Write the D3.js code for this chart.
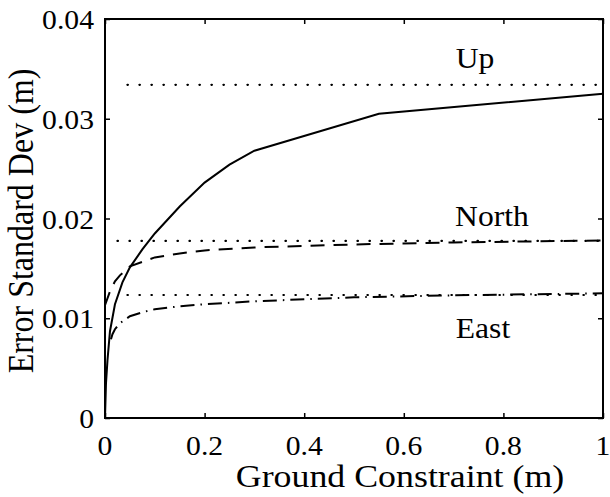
<!DOCTYPE html>
<html>
<head>
<meta charset="utf-8">
<script src="https://cdn.jsdelivr.net/npm/d3@7"></script>
<style>
  body { margin: 0; background: #fff; }
</style>
</head>
<body>
<div id="chart"></div>
<script>
var width = 610
var height = 497
var margin = ({top: 19, right: 7, bottom: 79, left: 105})
var serif = "'Liberation Serif', 'Times New Roman', Times, serif"

// ground constraint (m) vs error std dev (m)
var upX = [0, 0.002, 0.005, 0.01, 0.02, 0.035, 0.05, 0.075, 0.1, 0.15, 0.2, 0.25, 0.3, 0.55, 1.0]
var upY = [0, 0.0035, 0.0058, 0.0087, 0.0114, 0.0136, 0.0151, 0.0169, 0.0185, 0.0212, 0.0236, 0.0254, 0.0268, 0.0305, 0.0325]

var northX = [0, 0.01, 0.02, 0.03, 0.05, 0.1, 0.15, 0.2, 0.3, 0.5, 0.7, 1.0]
var northY = [0.0113, 0.0127, 0.0137, 0.0143, 0.0152, 0.0161, 0.0165, 0.0168, 0.0171, 0.0174, 0.0176, 0.0178]

var eastX = [0.012, 0.015, 0.02, 0.03, 0.05, 0.075, 0.1, 0.15, 0.2, 0.3, 0.5, 0.7, 1.0]
var eastY = [0.0079, 0.0084, 0.0089, 0.0095, 0.0102, 0.0106, 0.0109, 0.0112, 0.0114, 0.0117, 0.0121, 0.0123, 0.0125]

// dotted asymptote levels
var refNames = ["Up", "North", "East"]
var refLevels = [0.0334, 0.01775, 0.01233]
var refStart = [0.045, 0.025, 0.045]
var labelX = [0.743, 0.777, 0.759]
var labelY = [0.0351, 0.0192, 0.0080]

var xTicks = [0, 0.2, 0.4, 0.6, 0.8, 1]
var yTicks = [0, 0.01, 0.02, 0.03, 0.04]

var svg = d3.select("#chart").append("svg")
  .attr("width", width)
  .attr("height", height)
  .attr("font-family", serif)

var x = d3.scaleLinear().domain([0, 1]).range([margin.left, width - margin.right])
var y = d3.scaleLinear().domain([0, 0.04]).range([height - margin.bottom, margin.top])

var line = d3.line().x(d => x(d[0])).y(d => y(d[1]))

// reference dotted lines
svg.append("g")
  .attr("stroke", "#000")
  .attr("stroke-width", 2.2)
  .attr("stroke-linecap", "round")
  .attr("stroke-dasharray", "0.5 11.5")
  .selectAll("line")
  .data(refLevels)
  .join("line")
    .attr("x1", (d, i) => x(refStart[i]))
    .attr("x2", x(1) - 4)
    .attr("y1", d => y(d))
    .attr("y2", d => y(d))

var series = [
  {xs: upX, ys: upY, dash: null},
  {xs: northX, ys: northY, dash: "14 9"},
  {xs: eastX, ys: eastY, dash: "14 6 1.5 6"}
]

svg.append("g")
  .attr("fill", "none")
  .attr("stroke", "#000")
  .attr("stroke-width", 2)
  .selectAll("path")
  .data(series)
  .join("path")
    .attr("stroke-dasharray", d => d.dash)
    .attr("d", d => line(d.xs.map((v, i) => [v, d.ys[i]])))

// frame
svg.append("rect")
  .attr("x", x(0))
  .attr("y", y(0.04))
  .attr("width", x(1) - x(0))
  .attr("height", y(0) - y(0.04))
  .attr("fill", "none")
  .attr("stroke", "#000")
  .attr("stroke-width", 2)

// inward ticks on all sides
svg.append("g")
  .attr("transform", `translate(0,${y(0)})`)
  .call(d3.axisTop(x).tickValues(xTicks).tickSize(5).tickFormat(""))
svg.append("g")
  .attr("transform", `translate(0,${y(0.04)})`)
  .call(d3.axisBottom(x).tickValues(xTicks).tickSize(5).tickFormat(""))
svg.append("g")
  .attr("transform", `translate(${x(0)},0)`)
  .call(d3.axisRight(y).tickValues(yTicks).tickSize(5).tickFormat(""))
svg.append("g")
  .attr("transform", `translate(${x(1)},0)`)
  .call(d3.axisLeft(y).tickValues(yTicks).tickSize(5).tickFormat(""))
svg.selectAll(".domain").remove()
svg.selectAll(".tick line").attr("stroke-width", 1.5)

// the scan is stretched sideways, so text gets a horizontal scale
function place(px, py, sx) {
  return `translate(${px},${py}) scale(${sx},1)`
}

// tick labels
svg.append("g")
  .attr("font-size", 26.5)
  .attr("font-family", serif)
  .attr("text-anchor", "middle")
  .selectAll("text")
  .data(xTicks)
  .join("text")
    .attr("transform", d => place(x(d), y(0) + 37, 1.12))
    .text(d => d3.format("~g")(d))

svg.append("g")
  .attr("font-size", 26.5)
  .attr("font-family", serif)
  .attr("text-anchor", "end")
  .selectAll("text")
  .data(yTicks)
  .join("text")
    .attr("transform", d => place(x(0) - 11, y(d) + 10, 1.12))
    .text(d => d === 0 ? "0" : d3.format(".2f")(d))

// curve labels
svg.append("g")
  .attr("font-size", 29)
  .attr("font-family", serif)
  .attr("text-anchor", "middle")
  .selectAll("text")
  .data(refNames)
  .join("text")
    .attr("transform", (d, i) => place(x(labelX[i]), y(labelY[i]), 1.09))
    .text(d => d)

// axis titles
svg.append("text")
  .attr("font-size", 32)
  .attr("font-family", serif)
  .attr("text-anchor", "middle")
  .attr("transform", place(400, 487, 1.12))
  .text("Ground Constraint (m)")

svg.append("text")
  .attr("font-size", 32)
  .attr("font-family", serif)
  .attr("text-anchor", "middle")
  .attr("transform", `translate(33,221) rotate(-90) scale(1,1.1)`)
  .text("Error Standard Dev (m)")
</script>
</body>
</html>
